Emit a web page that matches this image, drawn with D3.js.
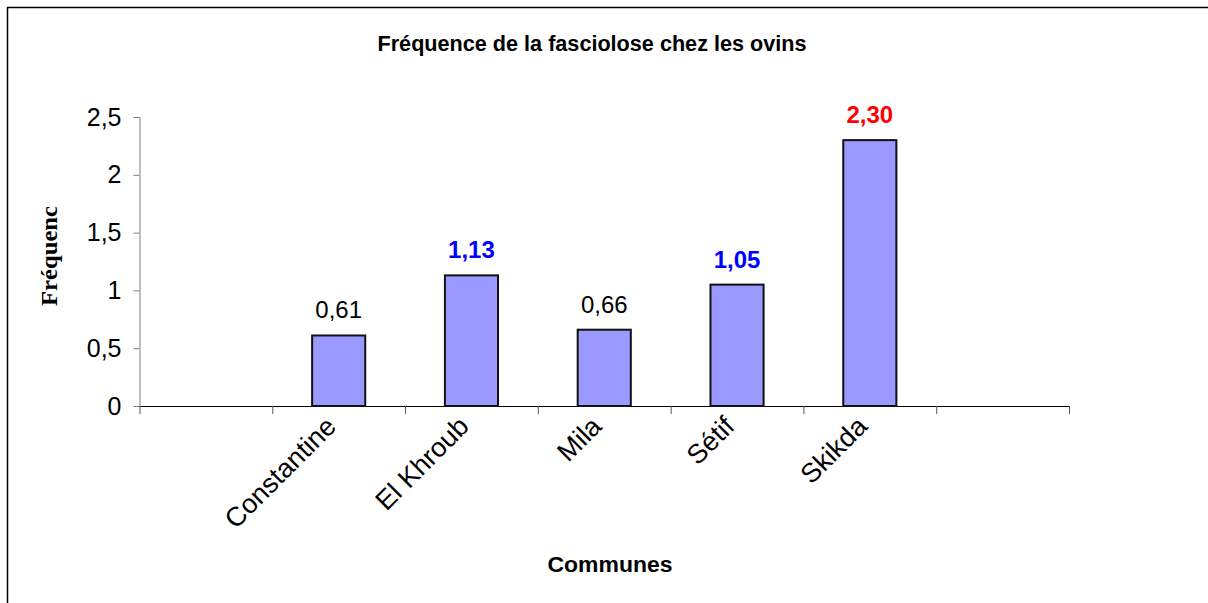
<!DOCTYPE html>
<html>
<head>
<meta charset="utf-8">
<script src="https://cdn.jsdelivr.net/npm/d3@7"></script>
<style>
  body { margin: 0; background: #fff; }
  text { font-family: "Liberation Sans", Arial, sans-serif; }
</style>
</head>
<body>
<div id="chart"></div>
<script>
// data
var communes = ["", "Constantine", "El Khroub", "Mila", "Sétif", "Skikda", " "];
var frequences = [null, 0.61, 1.13, 0.66, 1.05, 2.30, null];
var labelColors = [null, "#000", "#0000ff", "#000", "#0000ff", "#ff0000", null];
var labelBold = [false, false, true, false, true, true, false];
var yTicks = [0, 0.5, 1, 1.5, 2, 2.5];

var svgWidth = 1208, svgHeight = 603;
var plot = {left: 139.5, right: 1069, top: 117, bottom: 406};

var fr = d3.formatLocale({decimal: ",", thousands: " ", grouping: [3], currency: ["", "€"]});
var fmtTick = fr.format("~g"), fmtVal = fr.format(".2f");

var svg = d3.select("#chart").append("svg")
  .attr("width", svgWidth).attr("height", svgHeight);

// frame
svg.append("path").attr("d", "M7.5,603V7.5H1208")
  .attr("fill", "none").attr("stroke", "#000").attr("stroke-width", 1.5);

var x = d3.scaleBand().domain(communes)
  .range([plot.left, plot.right]).paddingInner(0.6).paddingOuter(0.3);
var slot = d3.scaleLinear().domain([0, communes.length]).range([plot.left, plot.right]);
var y = d3.scaleLinear().domain([0, 2.5]).range([plot.bottom, plot.top]);

// title
svg.append("text").attr("x", 592).attr("y", 51)
  .attr("text-anchor", "middle").attr("font-weight", "bold").attr("font-size", 22)
  .attr("textLength", 429).attr("lengthAdjust", "spacingAndGlyphs")
  .text("Fréquence de la fasciolose chez les ovins");

// y axis
var yAxis = svg.append("g").attr("transform", "translate(" + plot.left + ",0)")
  .call(d3.axisLeft(y).tickValues(yTicks).tickFormat(fmtTick).tickSize(6).tickPadding(12));
yAxis.select(".domain").attr("stroke", "#808080");
yAxis.selectAll(".tick line").attr("stroke", "#808080");
yAxis.selectAll(".tick text").attr("font-size", 25).attr("fill", "#000")
  .attr("font-family", "Liberation Sans, Arial, sans-serif");

// x axis (ticks on slot boundaries)
var xAxis = svg.append("g").attr("transform", "translate(0," + plot.bottom + ")")
  .call(d3.axisBottom(slot).tickValues(d3.range(communes.length + 1)).tickFormat("").tickSize(8).tickSizeOuter(0));
xAxis.select(".domain").attr("stroke", "#000");
xAxis.selectAll(".tick line").attr("stroke", "#555");

// bars
var idx = d3.range(communes.length).filter(function(i){ return frequences[i] != null; });
svg.append("g").selectAll("rect").data(idx).join("rect")
  .attr("x", function(i){ return x(communes[i]); })
  .attr("y", function(i){ return y(frequences[i]); })
  .attr("width", x.bandwidth())
  .attr("height", function(i){ return y(0) - y(frequences[i]); })
  .attr("fill", "#9999ff").attr("stroke", "#111").attr("stroke-width", 2);

// value labels
svg.append("g").selectAll("text").data(idx).join("text")
  .attr("x", function(i){ return x(communes[i]) + x.bandwidth() / 2; })
  .attr("y", function(i){ return y(frequences[i]) - 17; })
  .attr("text-anchor", "middle").attr("font-size", 24)
  .attr("font-weight", function(i){ return labelBold[i] ? "bold" : "normal"; })
  .attr("fill", function(i){ return labelColors[i]; })
  .text(function(i){ return fmtVal(frequences[i]); });

// category labels
svg.append("g").selectAll("text").data(idx).join("text")
  .attr("transform", function(i){
    return "translate(" + (x(communes[i]) + x.bandwidth() / 2 - 1) + ",428) rotate(-45)";
  })
  .attr("text-anchor", "end").attr("font-size", 27)
  .text(function(i){ return communes[i]; });

// axis titles
svg.append("text").attr("x", 610).attr("y", 572)
  .attr("text-anchor", "middle").attr("font-weight", "bold").attr("font-size", 22)
  .attr("textLength", 125).attr("lengthAdjust", "spacingAndGlyphs")
  .text("Communes");

svg.append("text").attr("transform", "translate(57,256) rotate(-90)")
  .attr("text-anchor", "middle").attr("font-weight", "bold").attr("font-size", 23)
  .attr("textLength", 100).attr("lengthAdjust", "spacingAndGlyphs")
  .style("font-family", "'Liberation Serif', 'Times New Roman', serif")
  .text("Fréquenc");
</script>
</body>
</html>
